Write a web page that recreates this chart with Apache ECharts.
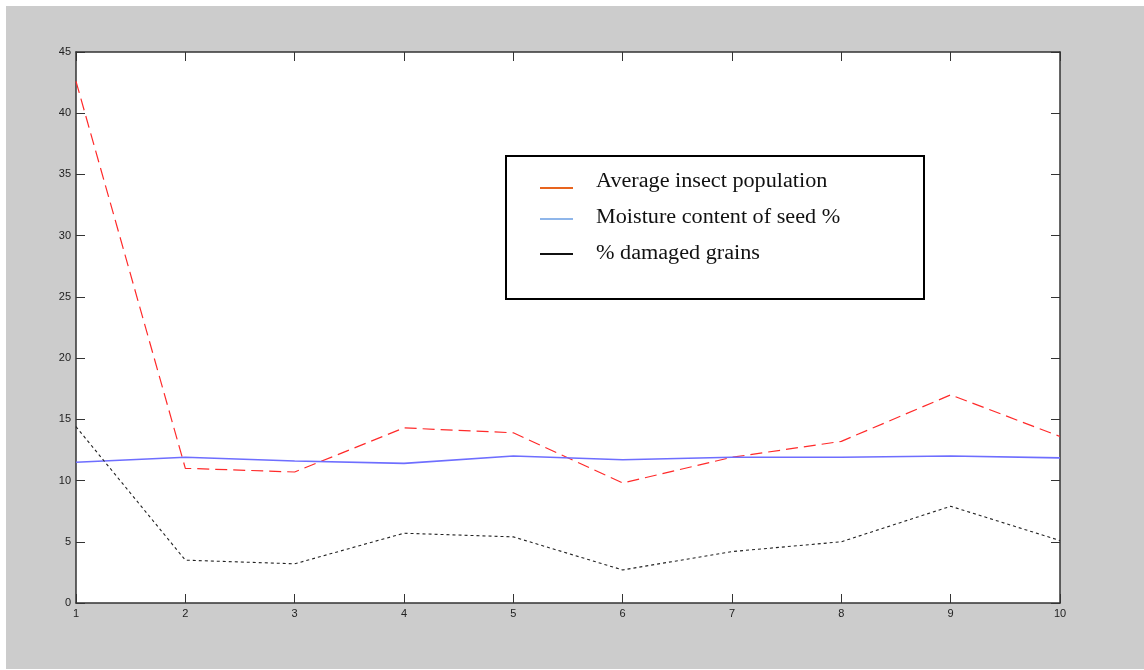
<!DOCTYPE html>
<html>
<head>
<meta charset="utf-8">
<script src="https://cdn.jsdelivr.net/npm/echarts@6/dist/echarts.min.js"></script>
<style>
  html, body { margin: 0; padding: 0; background: #ffffff; }
  #chart { width: 1144px; height: 670px; }
</style>
</head>
<body>
<div id="chart"></div>
<script>
// Sample index along the x axis
const samples = [1, 2, 3, 4, 5, 6, 7, 8, 9, 10];

// Series values
const insectPopulation = [42.6, 11.0, 10.7, 14.3, 13.9, 9.8, 11.9, 13.2, 17.0, 13.6];
const seedMoisture = [11.5, 11.9, 11.6, 11.4, 12.0, 11.7, 11.9, 11.9, 12.0, 11.85];
const damagedGrains = [14.4, 3.5, 3.2, 5.7, 5.4, 2.7, 4.2, 5.0, 7.9, 5.1];

const seriesNames = [
  'Average insect population',
  'Moisture content of seed %',
  '% damaged grains'
];
// Key swatch colours
const keyColors = ['#e8641e', '#8fb6ea', '#111111'];

const pairs = (ys) => samples.map((x, i) => [x, ys[i]]);

const chart = echarts.init(document.getElementById('chart'), null, { renderer: 'canvas' });

const gridPos = { left: 76, right: 84, top: 52, bottom: 67 };
const labelFont = { fontFamily: 'Liberation Sans, Arial, sans-serif', fontSize: 11, color: '#222' };

const baseAxis = {
  type: 'value',
  splitLine: { show: false },
  axisLine: { show: true, onZero: false, lineStyle: { color: '#333', width: 1.5 } },
  axisTick: { show: true, inside: true, length: 9, lineStyle: { color: '#333', width: 1 } }
};

// Boxed key, drawn as graphic elements
const keyRows = [
  { lineY: 188, textY: 182 },
  { lineY: 219, textY: 218 },
  { lineY: 254, textY: 254 }
];
const keyElements = [
  { type: 'rect', shape: { x: 506, y: 156, width: 418, height: 143 }, style: { fill: '#ffffff', stroke: '#000000', lineWidth: 2 } }
];
seriesNames.forEach((name, i) => {
  keyElements.push({
    type: 'line',
    shape: { x1: 540, y1: keyRows[i].lineY, x2: 573, y2: keyRows[i].lineY },
    style: { stroke: keyColors[i], lineWidth: 2 }
  });
  keyElements.push({
    type: 'text',
    x: 596, y: keyRows[i].textY,
    scaleX: 1.11,
    style: {
      text: name,
      font: '20px "Liberation Serif", "Times New Roman", serif',
      fill: '#111111',
      verticalAlign: 'middle',
      align: 'left'
    }
  });
});

chart.setOption({
  animation: false,
  backgroundColor: 'transparent',
  graphic: [
    { type: 'rect', z: -10, silent: true, shape: { x: 6, y: 6, width: 1138, height: 663 }, style: { fill: '#cccccc' } },
    { type: 'rect', z: -9, silent: true, shape: { x: 76, y: 52, width: 984, height: 551 }, style: { fill: '#ffffff' } },
    { type: 'group', z: 50, silent: true, children: keyElements }
  ],
  grid: gridPos,
  xAxis: [
    Object.assign({}, baseAxis, {
      min: 1, max: 10, interval: 1,
      position: 'bottom',
      axisLabel: Object.assign({ margin: 5 }, labelFont)
    }),
    Object.assign({}, baseAxis, {
      min: 1, max: 10, interval: 1,
      position: 'top',
      axisLabel: { show: false }
    })
  ],
  yAxis: [
    Object.assign({}, baseAxis, {
      min: 0, max: 45, interval: 5,
      position: 'left',
      axisLabel: Object.assign({ margin: 5 }, labelFont)
    }),
    Object.assign({}, baseAxis, {
      min: 0, max: 45, interval: 5,
      position: 'right',
      axisLabel: { show: false }
    })
  ],
  series: [
    {
      name: seriesNames[0], type: 'line', data: pairs(insectPopulation),
      showSymbol: false, symbol: 'none', color: '#ff2a2a',
      lineStyle: { color: '#ff2a2a', width: 1.2, type: [12, 6] }
    },
    {
      name: seriesNames[1], type: 'line', data: pairs(seedMoisture),
      showSymbol: false, symbol: 'none', color: '#6e6eff',
      lineStyle: { color: '#6e6eff', width: 1.6 }
    },
    {
      name: seriesNames[2], type: 'line', data: pairs(damagedGrains),
      showSymbol: false, symbol: 'none', color: '#222222',
      lineStyle: { color: '#222222', width: 1.1, type: [3, 3] }
    }
  ]
});
</script>
</body>
</html>
